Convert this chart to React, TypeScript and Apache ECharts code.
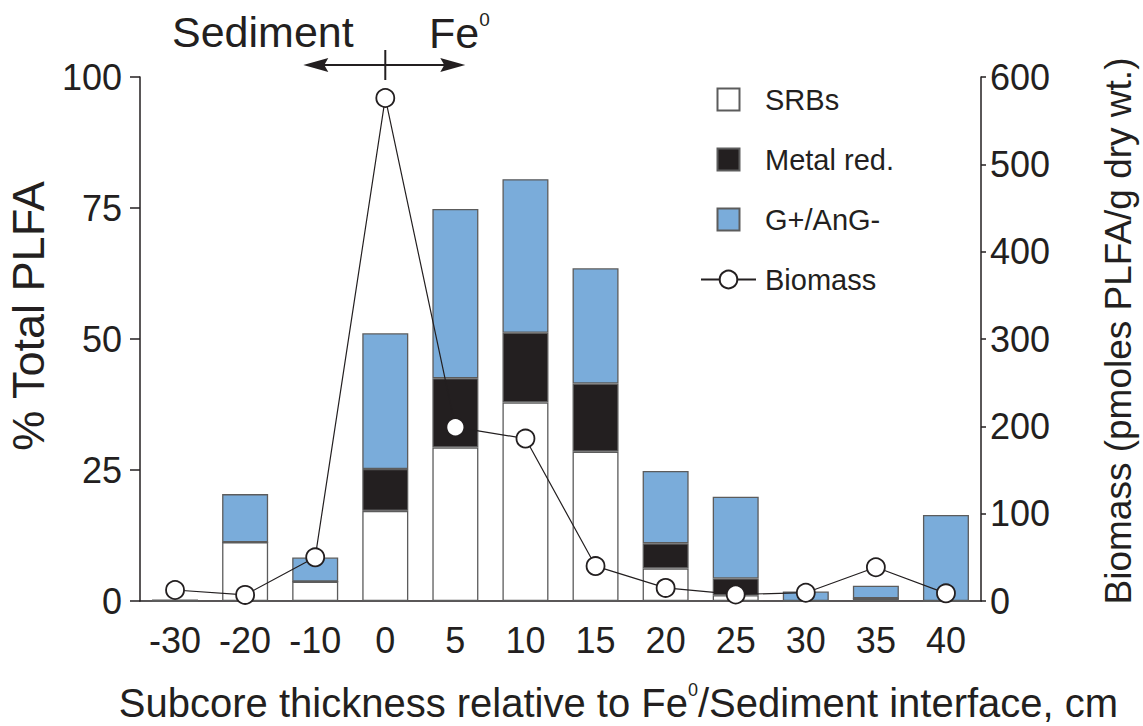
import React, { useEffect, useRef } from 'react';
import * as echarts from 'echarts';

// Depth of each subcore slice relative to the Fe0 / sediment interface (cm)
const categories = ['-30', '-20', '-10', '0', '5', '10', '15', '20', '25', '30', '35', '40'];

// Share of total PLFA (%) for each microbial group, stacked per slice
const srbs = [0, 11.2, 3.7, 17.2, 29.3, 37.9, 28.5, 6.2, 1.1, 0, 0.5, 0];
const metalReducers = [0, 0, 0, 8.0, 13.2, 13.3, 13.0, 4.8, 3.2, 0, 0, 0];
const gramPosAnGramNeg = [0.3, 9.2, 4.6, 25.9, 32.3, 29.3, 22.0, 13.8, 15.6, 1.8, 2.4, 16.4];

// Total biomass (pmoles PLFA / g dry wt.)
const biomass = [12.6, 7, 50, 576, 199, 186, 40, 15, 7.5, 9.5, 38.6, 8.8];

const FONT = '"Liberation Sans", Arial, Helvetica, sans-serif';
const INK = '#231f20';
const BLUE = '#7aacda';
const EDGE = '#5c5c5c';

export default function App() {
  const ref = useRef<HTMLDivElement>(null);

  useEffect(() => {
    const chart = echarts.init(ref.current!, null, { renderer: 'svg' });
    const barStyle = (color: string) => ({ color, borderColor: EDGE, borderWidth: 1.3 });
    const square = 'path://M0 0H10V10H0Z';

    chart.setOption({
      animation: false,
      backgroundColor: '#ffffff',
      textStyle: { fontFamily: FONT, color: INK },
      grid: { left: 140, right: 162, top: 77, bottom: 125, containLabel: false, outerBoundsMode: 'none' },
      legend: {
        orient: 'vertical',
        left: 695,
        top: 80,
        itemWidth: 55,
        itemHeight: 22,
        itemGap: 31,
        data: [
          { name: 'SRBs', icon: square },
          { name: 'Metal red.', icon: square },
          { name: 'G+/AnG-', icon: square },
          { name: 'Biomass' },
        ],
        textStyle: { fontFamily: FONT, fontSize: 29, color: INK, padding: [0, 0, 0, 4] },
      },
      xAxis: {
        type: 'category',
        data: categories,
        boundaryGap: true,
        axisLine: { lineStyle: { color: INK, width: 1.5 } },
        axisTick: { alignWithLabel: true, length: 10, lineStyle: { color: INK, width: 1.5 } },
        axisLabel: { fontFamily: FONT, fontSize: 36, color: INK, margin: 21 },
        name: '{t|Subcore thickness relative to Fe}{s|0}{t|/Sediment interface, cm}',
        nameLocation: 'middle',
        nameGap: 80,
        nameTextStyle: {
          padding: [0, 0, 0, 116],
          rich: {
            t: { fontFamily: FONT, fontSize: 40, color: INK, lineHeight: 44 },
            s: { fontFamily: FONT, fontSize: 18, color: INK, verticalAlign: 'top', lineHeight: 44 },
          },
        },
      },
      yAxis: [
        {
          type: 'value',
          position: 'left',
          min: 0,
          max: 100,
          interval: 25,
          axisLine: { show: true, lineStyle: { color: INK, width: 1.5 } },
          axisTick: { show: true, length: 10, lineStyle: { color: INK, width: 1.5 } },
          axisLabel: { fontFamily: FONT, fontSize: 36, color: INK, margin: 18 },
          splitLine: { show: false },
          name: '% Total PLFA',
          nameLocation: 'middle',
          nameRotate: 90,
          nameGap: 89,
          nameTextStyle: { fontFamily: FONT, fontSize: 45, color: INK, padding: [0, 0, 0, 46] },
        },
        {
          type: 'value',
          position: 'right',
          min: 0,
          max: 600,
          interval: 100,
          axisLine: { show: true, lineStyle: { color: INK, width: 1.5 } },
          axisTick: { show: true, length: 5, lineStyle: { color: INK, width: 1.5 } },
          axisLabel: { fontFamily: FONT, fontSize: 36, color: INK, margin: 9 },
          splitLine: { show: false },
          name: 'Biomass (pmoles PLFA/g dry wt.)',
          nameLocation: 'middle',
          nameRotate: 90,
          nameGap: 119,
          nameTextStyle: { fontFamily: FONT, fontSize: 37, color: INK, padding: [0, 0, 0, 16] },
        },
      ],
      series: [
        { name: 'SRBs', type: 'bar', stack: 'plfa', barWidth: 46, data: srbs, itemStyle: barStyle('#ffffff') },
        { name: 'Metal red.', type: 'bar', stack: 'plfa', barWidth: 46, data: metalReducers, itemStyle: barStyle(INK) },
        { name: 'G+/AnG-', type: 'bar', stack: 'plfa', barWidth: 46, data: gramPosAnGramNeg, itemStyle: barStyle(BLUE) },
        {
          name: 'Biomass',
          type: 'line',
          yAxisIndex: 1,
          data: biomass,
          symbol: 'circle',
          symbolSize: 18,
          z: 5,
          lineStyle: { color: INK, width: 1.2 },
          itemStyle: { color: '#ffffff', borderColor: INK, borderWidth: 1.8 },
        },
      ],
    });

    // Interface marker above the plot, centred on the "0" slice
    const xi = chart.convertToPixel({ xAxisIndex: 0 }, categories.indexOf('0')) as number;
    const ay = 65;
    chart.setOption({
      graphic: [
        {
          type: 'text',
          left: 172,
          top: 10,
          style: { text: 'Sediment', fontFamily: FONT, fontSize: 43, fill: INK },
        },
        {
          type: 'text',
          left: 429,
          top: 10,
          style: {
            text: '{t|Fe}{s|0}',
            rich: {
              t: { fontFamily: FONT, fontSize: 43, fill: INK, lineHeight: 46 },
              s: { fontFamily: FONT, fontSize: 19, fill: INK, verticalAlign: 'top', lineHeight: 46 },
            },
          },
        },
        {
          type: 'line',
          shape: { x1: xi - 70, y1: ay, x2: xi + 68, y2: ay },
          style: { stroke: INK, lineWidth: 2 },
        },
        {
          type: 'polygon',
          shape: { points: [[xi - 82, ay], [xi - 57, ay - 7], [xi - 61, ay], [xi - 57, ay + 7]] },
          style: { fill: INK },
        },
        {
          type: 'polygon',
          shape: { points: [[xi + 80, ay], [xi + 55, ay - 7], [xi + 59, ay], [xi + 55, ay + 7]] },
          style: { fill: INK },
        },
        {
          type: 'line',
          shape: { x1: xi, y1: 50, x2: xi, y2: 80 },
          style: { stroke: INK, lineWidth: 2 },
        },
      ],
    });

    return () => chart.dispose();
  }, []);

  return (
    <div
      ref={ref}
      style={{ position: 'absolute', left: 0, top: 0, width: 1143, height: 726, background: '#ffffff' }}
    />
  );
}
